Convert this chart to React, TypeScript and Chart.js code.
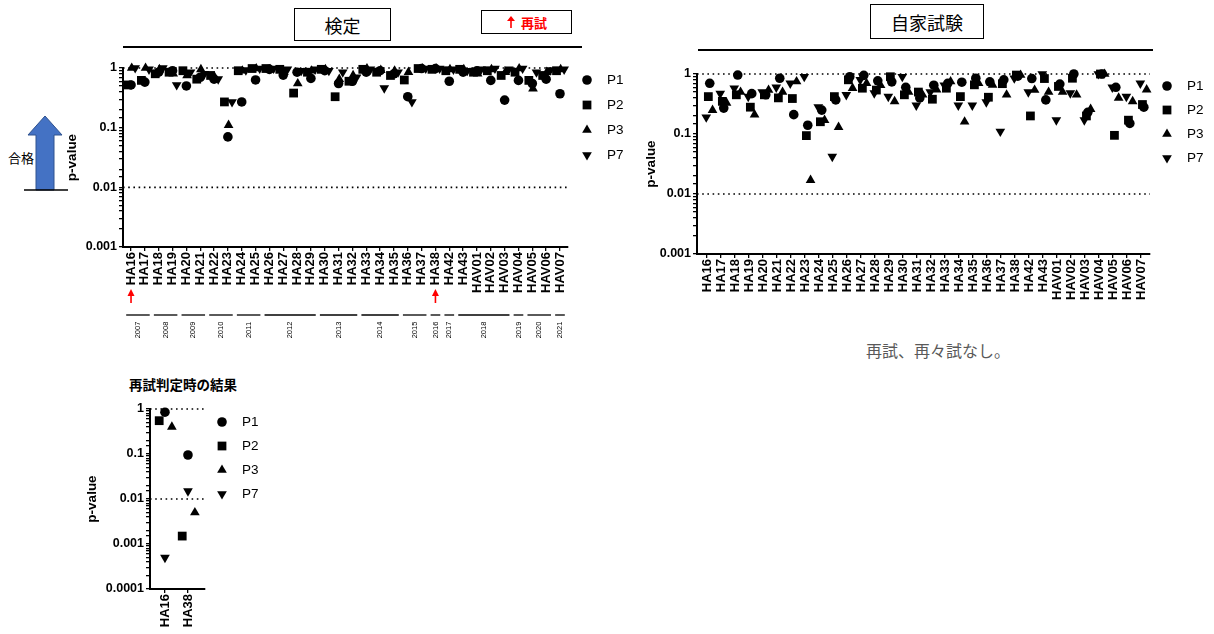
import React, { useEffect, useRef } from 'react';
import { Chart, registerables } from 'chart.js';
import { drawPoint } from 'chart.js/helpers';

Chart.register(...registerables);

// ---------------- data ----------------
const seriesNames = ['P1', 'P2', 'P3', 'P7'];

const lotLabels = [
  'HA16', 'HA17', 'HA18', 'HA19', 'HA20', 'HA21', 'HA22', 'HA23', 'HA24', 'HA25',
  'HA26', 'HA27', 'HA28', 'HA29', 'HA30', 'HA31', 'HA32', 'HA33', 'HA34', 'HA35',
  'HA36', 'HA37', 'HA38', 'HA42', 'HA43', 'HAV01', 'HAV02', 'HAV03', 'HAV04', 'HAV05',
  'HAV06', 'HAV07',
];

// 検定 (official test)
const kenteiP1 = [0.52, 0.58, 0.85, 0.9, 0.5, 0.7, 0.65, 0.07, 0.27, 0.63, 0.95, 0.76, 0.85, 0.67, 0.9, 0.55, 0.6, 0.85, 0.9, 0.8, 0.33, 0.98, 0.98, 0.6, 0.85, 0.9, 0.62, 0.29, 0.62, 0.55, 0.65, 0.37];
const kenteiP2 = [0.52, 0.62, 0.8, 0.85, 0.9, 0.65, 0.75, 0.27, 0.9, 0.98, 0.98, 0.95, 0.38, 0.85, 0.95, 0.33, 0.6, 0.95, 0.85, 0.75, 0.63, 0.98, 0.95, 0.9, 0.95, 0.85, 0.9, 0.75, 0.85, 0.62, 0.75, 0.9];
const kenteiP3 = [1, 1, 0.95, 0.8, 0.75, 0.95, 0.7, 0.11, 0.9, 0.98, 0.95, 0.85, 0.55, 0.9, 0.95, 0.65, 0.75, 0.98, 0.92, 0.9, 0.85, 0.98, 0.98, 0.95, 0.95, 0.8, 0.95, 0.85, 0.98, 0.45, 0.85, 0.95];
const kenteiP7 = [1, 0.95, 1, 0.52, 0.85, 0.8, 0.65, 0.27, 0.92, 0.98, 0.98, 0.95, 0.9, 0.95, 0.9, 0.85, 0.7, 0.95, 0.46, 0.85, 0.27, 0.98, 0.98, 0.95, 0.9, 0.95, 0.98, 0.95, 0.98, 0.85, 0.92, 0.95];

// 自家試験 (in-house test)
const jikaP1 = [0.7, 0.27, 0.96, 0.47, 0.45, 0.85, 0.21, 0.14, 0.25, 0.37, 0.9, 0.95, 0.77, 0.74, 0.6, 0.4, 0.65, 0.7, 0.73, 0.85, 0.74, 0.8, 0.92, 0.84, 0.37, 0.68, 1.0, 0.23, 1.0, 0.6, 0.15, 0.28];
const jikaP2 = [0.42, 0.35, 0.45, 0.28, 0.45, 0.4, 0.39, 0.094, 0.16, 0.42, 0.8, 0.58, 0.54, 0.9, 0.45, 0.5, 0.38, 0.58, 0.42, 0.66, 0.41, 0.69, 0.96, 0.2, 0.84, 0.62, 0.85, 0.2, 1.0, 0.095, 0.17, 0.31];
const jikaP3 = [0.25, 0.33, 0.5, 0.21, 0.54, 0.5, 0.75, 0.017, 0.17, 0.13, 0.58, 0.7, 0.65, 0.35, 0.5, 0.45, 0.55, 0.75, 0.16, 0.7, 0.66, 0.45, 0.96, 0.54, 0.5, 0.5, 0.45, 0.26, 1.0, 0.4, 0.35, 0.55];
const jikaP7 = [0.19, 0.47, 0.58, 0.42, 0.5, 0.6, 0.7, 0.9, 0.28, 0.042, 0.45, 0.8, 0.48, 0.42, 0.9, 0.3, 0.5, 0.65, 0.3, 0.3, 0.34, 0.11, 0.85, 0.5, 1.0, 0.17, 0.48, 0.17, 1.0, 0.6, 0.42, 0.7];

// 再試判定時の結果 (retest)
const retestLabels = ['HA16', 'HA38'];
const retestP1 = [0.85, 0.095];
const retestP2 = [0.55, 0.0015];
const retestP3 = [0.4, 0.005];
const retestP7 = [0.0005, 0.015];

// year groups under the 検定 panel
const yearLabels = ['2007', '2008', '2009', '2010', '2011', '2012', '2013', '2014', '2015', '2016', '2017', '2018', '2019', '2020', '2021'];
const yearFirstLot = [0, 2, 4, 6, 8, 10, 14, 17, 20, 22, 23, 24, 28, 29, 31];
const yearLastLot = [1, 3, 5, 7, 9, 13, 16, 19, 21, 22, 23, 27, 28, 30, 31];
const retestLots = [0, 22];

const yTickText = ['1', '0.1', '0.01', '0.001', '0.0001'];
const refLines = [1, 0.01];

// ---------------- styles ----------------
const FONT = '"Liberation Sans", Arial, Helvetica, sans-serif';
const JP = '"Noto Sans CJK JP", "Noto Sans", sans-serif';

const markerStyles = [
  { pointStyle: 'circle', rotation: 0, radius: 4.8 },
  { pointStyle: 'rect', rotation: 0, radius: 6.2 },
  { pointStyle: 'triangle', rotation: 0, radius: 5.6 },
  { pointStyle: 'triangle', rotation: 180, radius: 5.6 },
];

const markerLegendPlugin = {
  id: 'markerLegend',
  afterDraw(chart: any, _args: any, opts: any) {
    if (!opts || !opts.names) return;
    const ctx = chart.ctx;
    ctx.save();
    ctx.fillStyle = '#000';
    ctx.strokeStyle = '#000';
    opts.names.forEach((name: string, k: number) => {
      const y = opts.y + k * opts.dy;
      const st = markerStyles[k];
      drawPoint(ctx, { pointStyle: st.pointStyle, rotation: st.rotation, radius: st.radius, borderWidth: 0 } as any, opts.x, y);
      ctx.font = `13.5px ${FONT}`;
      ctx.textBaseline = 'middle';
      ctx.textAlign = 'left';
      ctx.fillText(name, opts.x + opts.gap, y);
    });
    ctx.restore();
  },
};

const yearGroupPlugin = {
  id: 'yearGroups',
  afterDraw(chart: any, _args: any, opts: any) {
    if (!opts || !opts.years) return;
    const ctx = chart.ctx;
    const xs = chart.scales.x;
    const base = chart.chartArea.bottom;
    ctx.save();
    // red retest arrows
    ctx.fillStyle = '#ff0000';
    ctx.strokeStyle = '#ff0000';
    ctx.lineWidth = 1.6;
    opts.retest.forEach((i: number) => {
      const px = xs.getPixelForValue(i);
      ctx.beginPath();
      ctx.moveTo(px, base + 56);
      ctx.lineTo(px, base + 47);
      ctx.stroke();
      ctx.beginPath();
      ctx.moveTo(px, base + 42);
      ctx.lineTo(px - 3.5, base + 49);
      ctx.lineTo(px + 3.5, base + 49);
      ctx.closePath();
      ctx.fill();
    });
    // year lines and labels
    ctx.strokeStyle = '#000';
    ctx.fillStyle = '#000';
    ctx.lineWidth = 1.3;
    opts.years.forEach((lab: string, k: number) => {
      const a = xs.getPixelForValue(opts.first[k] - 0.35);
      const b = xs.getPixelForValue(opts.last[k] + 0.35);
      ctx.beginPath();
      ctx.moveTo(a, base + 68);
      ctx.lineTo(b, base + 68);
      ctx.stroke();
      const cx = (xs.getPixelForValue(opts.first[k]) + xs.getPixelForValue(opts.last[k])) / 2;
      ctx.save();
      ctx.translate(cx, base + 83);
      ctx.rotate(-Math.PI / 2);
      ctx.font = `7.5px ${FONT}`;
      ctx.textAlign = 'center';
      ctx.textBaseline = 'middle';
      ctx.fillText(lab, 0, 0);
      ctx.restore();
    });
    ctx.restore();
  },
};

type PanelCfg = {
  labels: string[];
  series: number[][];
  offsets: number[];
  xMin: number;
  xMax: number;
  yMin: number;
  yMax: number;
  padTop: number;
  padRight: number;
  yWidth: number;
  xHeight: number;
  titlePad: number;
  legend: { x: number; y: number; dy: number; gap: number };
  years?: any;
};

function makeConfig(p: PanelCfg): any {
  const datasets: any[] = [];
  refLines.forEach((v) => {
    datasets.push({
      type: 'line',
      data: [{ x: p.xMin, y: v }, { x: p.xMax, y: v }],
      borderColor: '#000',
      borderWidth: 1.6,
      borderDash: [1.6, 3.6],
      pointRadius: 0,
      showLine: true,
      order: 10,
      clip: false,
    });
  });
  p.series.forEach((vals, s) => {
    datasets.push({
      type: 'scatter',
      label: seriesNames[s],
      data: vals.map((v, i) => ({ x: i + p.offsets[s], y: v })),
      pointStyle: markerStyles[s].pointStyle,
      rotation: markerStyles[s].rotation,
      pointRadius: markerStyles[s].radius,
      backgroundColor: '#000',
      borderColor: '#000',
      borderWidth: 0,
      order: 1,
      clip: false,
    });
  });
  const axisGrid = {
    display: true,
    drawOnChartArea: false,
    drawTicks: true,
    tickLength: 4,
    color: '#000',
    lineWidth: 1.3,
  };
  return {
    type: 'scatter',
    data: { datasets },
    plugins: [markerLegendPlugin, yearGroupPlugin],
    options: {
      responsive: false,
      animation: false,
      events: [],
      layout: { padding: { top: p.padTop, right: p.padRight, bottom: 0, left: 0 } },
      plugins: {
        legend: { display: false },
        tooltip: { enabled: false },
        markerLegend: { names: seriesNames, ...p.legend },
        yearGroups: p.years || {},
      },
      scales: {
        x: {
          type: 'linear',
          min: p.xMin,
          max: p.xMax,
          afterFit: (s: any) => {
            s.height = p.xHeight;
          },
          afterBuildTicks: (s: any) => {
            s.ticks = p.labels.map((_, i) => ({ value: i }));
          },
          ticks: {
            autoSkip: false,
            minRotation: 90,
            maxRotation: 90,
            color: '#000',
            padding: 1,
            font: { family: FONT, size: 13, weight: 'bold' },
            callback: (v: number) => p.labels[v] ?? '',
          },
          grid: axisGrid,
          border: { display: true, color: '#000', width: 2 },
        },
        y: {
          type: 'logarithmic',
          min: p.yMin,
          max: p.yMax,
          afterFit: (s: any) => {
            s.width = p.yWidth;
          },
          ticks: {
            autoSkip: false,
            color: '#000',
            padding: 2,
            font: { family: FONT, size: 12.5, weight: 'bold' },
            callback: (v: number) => {
              const e = Math.log10(v);
              const r = Math.round(e);
              return Math.abs(e - r) < 1e-6 ? yTickText[-r] ?? '' : '';
            },
          },
          title: {
            display: true,
            text: 'p-value',
            color: '#000',
            font: { family: FONT, size: 13.5, weight: 'bold' },
            padding: { top: p.titlePad, bottom: 0 },
          },
          grid: axisGrid,
          border: { display: true, color: '#000', width: 2 },
        },
      },
    },
  };
}

function Panel({ cfg, left, top, width, height }: { cfg: PanelCfg; left: number; top: number; width: number; height: number }) {
  const ref = useRef<HTMLCanvasElement>(null);
  useEffect(() => {
    const chart = new Chart(ref.current as HTMLCanvasElement, makeConfig(cfg));
    return () => chart.destroy();
  }, []);
  return (
    <canvas
      ref={ref}
      width={width}
      height={height}
      style={{ position: 'absolute', left, top, width, height }}
    />
  );
}

const kenteiCfg: PanelCfg = {
  labels: lotLabels,
  series: [kenteiP1, kenteiP2, kenteiP3, kenteiP7],
  offsets: [0, -0.25, 0.05, 0.3],
  xMin: -0.58,
  xMax: 31.58,
  yMin: 0.001,
  yMax: 1,
  padTop: 18,
  padRight: 67,
  yWidth: 63,
  xHeight: 103,
  titlePad: 4,
  legend: { x: 527, y: 30, dy: 25, gap: 20 },
  years: { years: yearLabels, first: yearFirstLot, last: yearLastLot, retest: retestLots },
};

const jikaCfg: PanelCfg = {
  labels: lotLabels,
  series: [jikaP1, jikaP2, jikaP3, jikaP7],
  offsets: [0.2, 0.1, 0.4, -0.05],
  xMin: -0.71,
  xMax: 31.64,
  yMin: 0.001,
  yMax: 1,
  padTop: 19,
  padRight: 64,
  yWidth: 67,
  xHeight: 51,
  titlePad: 13,
  legend: { x: 537, y: 31, dy: 24, gap: 20 },
};

const retestCfg: PanelCfg = {
  labels: retestLabels,
  series: [retestP1, retestP2, retestP3, retestP7],
  offsets: [0, -0.25, 0.3, 0],
  xMin: -0.65,
  xMax: 1.74,
  yMin: 0.0001,
  yMax: 1,
  padTop: 14,
  padRight: 75,
  yWidth: 70,
  xHeight: 45,
  titlePad: 4,
  legend: { x: 142, y: 27, dy: 24, gap: 20 },
};

const boxStyle: React.CSSProperties = {
  position: 'absolute',
  border: '1.5px solid #000',
  boxSizing: 'border-box',
  display: 'flex',
  alignItems: 'center',
  justifyContent: 'center',
  fontFamily: JP,
  background: '#fff',
};

export default function App() {
  return (
    <div style={{ position: 'absolute', left: 0, top: 0, width: 1214, height: 634, background: '#fff', overflow: 'hidden' }}>
      {/* 検定 panel headings */}
      <div style={{ ...boxStyle, left: 294, top: 8, width: 97, height: 33, fontSize: 18 }}>検定</div>
      <div style={{ ...boxStyle, left: 481, top: 10, width: 91, height: 24, fontSize: 13, fontWeight: 'bold', color: '#ff0000' }}>
        <svg width="10" height="14" style={{ marginRight: 5 }}>
          <polygon points="5,1 1,6 9,6" fill="#ff0000" />
          <line x1="5" y1="5" x2="5" y2="13" stroke="#ff0000" strokeWidth="1.6" />
        </svg>
        再試
      </div>
      <div style={{ position: 'absolute', left: 123, top: 46, width: 459, height: 1.5, background: '#000' }} />

      {/* 合格 arrow */}
      <svg width="80" height="110" style={{ position: 'absolute', left: 0, top: 100 }}>
        <polygon points="45,16 62,35 54,35 54,90 36,90 36,35 28,35" fill="#4472C4" stroke="#2F528F" strokeWidth="1" />
        <line x1="24" y1="90" x2="68" y2="90" stroke="#000" strokeWidth="1.3" />
      </svg>
      <div style={{ position: 'absolute', left: 8, top: 149, fontFamily: JP, fontSize: 13, lineHeight: '17px' }}>合格</div>

      <Panel cfg={kenteiCfg} left={60} top={50} width={575} height={300} />

      {/* 自家試験 panel */}
      <div style={{ ...boxStyle, left: 870, top: 4, width: 114, height: 35, fontSize: 18 }}>自家試験</div>
      <div style={{ position: 'absolute', left: 698, top: 49, width: 455, height: 1.5, background: '#000' }} />
      <Panel cfg={jikaCfg} left={630} top={55} width={584} height={250} />
      <div style={{ position: 'absolute', left: 866, top: 338, fontFamily: JP, fontSize: 16, color: '#595959', whiteSpace: 'nowrap' }}>
        再試、再々試なし。
      </div>

      {/* retest panel */}
      <div style={{ position: 'absolute', left: 129, top: 374, fontFamily: JP, fontSize: 13.5, fontWeight: 'bold', whiteSpace: 'nowrap' }}>
        再試判定時の結果
      </div>
      <Panel cfg={retestCfg} left={80} top={395} width={200} height={239} />
    </div>
  );
}
